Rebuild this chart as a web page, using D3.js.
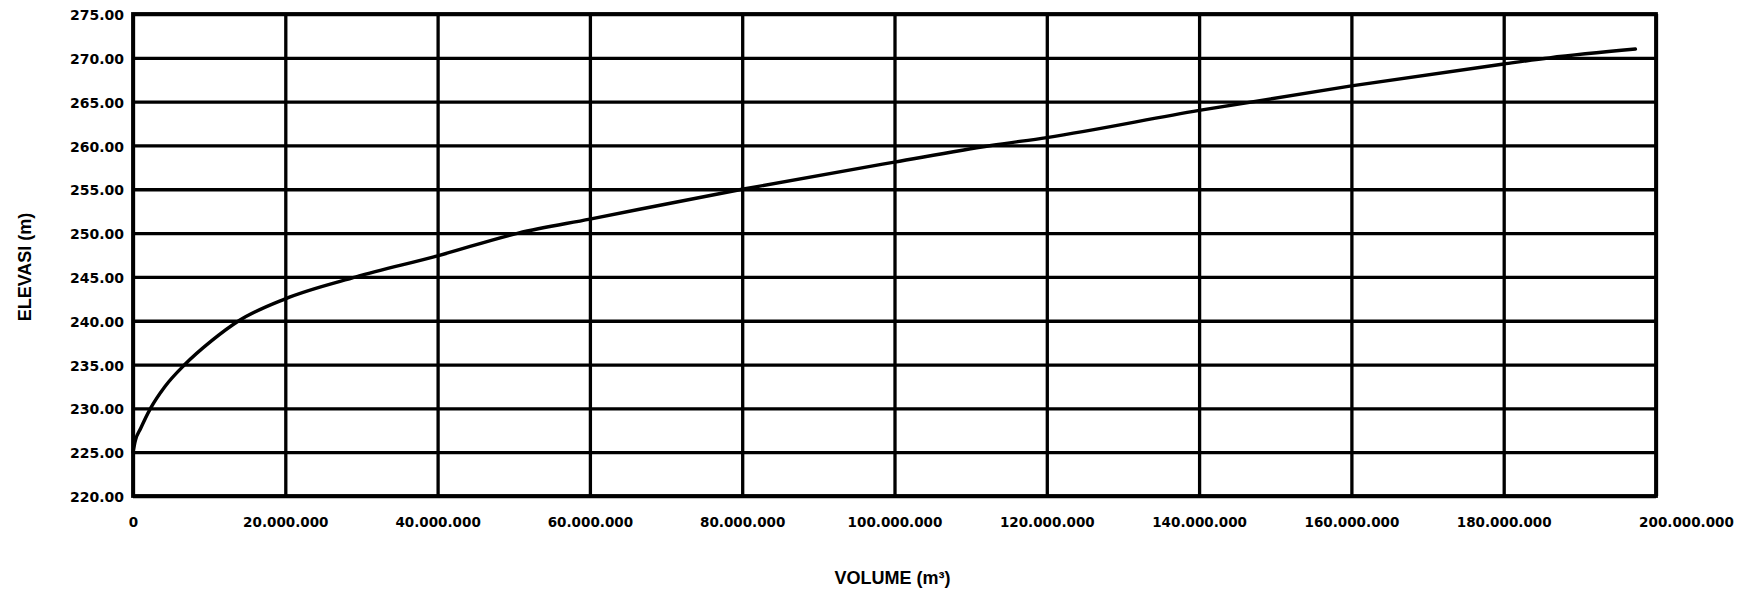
<!DOCTYPE html>
<html>
<head>
<meta charset="utf-8">
<script src="https://cdn.jsdelivr.net/npm/d3@7"></script>
<style>
  html, body { margin: 0; padding: 0; background: #fff; }
  svg { display: block; }
</style>
</head>
<body>
<svg id="chart" width="1737" height="590"></svg>
<script>
// ---- data ----
const volumeM3 = [0, 300000, 1000000, 2300000, 4200000, 6800000, 10300000, 13900000,
  20000000, 29300000, 40000000, 50600000, 60000000, 80000000, 100000000, 112700000,
  120000000, 140000000, 160000000, 180000000, 186000000, 197300000];
const elevationM = [225.0, 226.3, 227.7, 230.0, 232.5, 235.0, 237.7, 240.0,
  242.5, 245.0, 247.4, 250.0, 251.6, 255.0, 258.1, 260.0,
  260.9, 264.0, 266.8, 269.3, 270.0, 271.0];
const xTicks = [0, 20000000, 40000000, 60000000, 80000000, 100000000, 120000000,
  140000000, 160000000, 180000000, 200000000];
const yTicks = [220, 225, 230, 235, 240, 245, 250, 255, 260, 265, 270, 275];
const xTitle = "VOLUME (m³)";
const yTitle = "ELEVASI (m)";

// ---- layout ----
const svg = d3.select("#chart");
const pLeft = 133, pRight = 1656, pTop = 14, pBottom = 496;

const x = d3.scaleLinear().domain([0, 200000000]).range([pLeft, pRight]);
const y = d3.scaleLinear().domain([220, 275]).range([pBottom, pTop]);

const loc = d3.formatLocale({ decimal: ",", thousands: ".", grouping: [3], currency: ["", ""] });
const fx = loc.format(",d");
const fy = d3.format(".2f");

const tickFont = "'DejaVu Sans', Verdana, sans-serif";

// x axis with vertical gridlines
const gx = svg.append("g")
  .attr("transform", `translate(0,${pBottom})`)
  .call(d3.axisBottom(x).tickValues(xTicks).tickFormat(fx)
    .tickSize(-(pBottom - pTop)).tickPadding(21));
gx.select(".domain").remove();
gx.selectAll(".tick line").attr("stroke", "#000").attr("stroke-width", 3.3);
gx.selectAll(".tick text")
  .attr("fill", "#000")
  .attr("dx", (d, i, n) => i === n.length - 1 ? 30 : 0)
  .style("font-family", tickFont)
  .style("font-weight", "bold")
  .style("font-size", "13.5px");

// y axis with horizontal gridlines
const gy = svg.append("g")
  .attr("transform", `translate(${pLeft},0)`)
  .call(d3.axisLeft(y).tickValues(yTicks).tickFormat(fy)
    .tickSize(-(pRight - pLeft)).tickPadding(9));
gy.select(".domain").remove();
gy.selectAll(".tick line").attr("stroke", "#000").attr("stroke-width", 3.3);
gy.selectAll(".tick text")
  .attr("fill", "#000")
  .attr("dy", "0.4em")
  .style("font-family", tickFont)
  .style("font-weight", "bold")
  .style("font-size", "14px");

// frame
svg.append("rect")
  .attr("x", pLeft).attr("y", pTop)
  .attr("width", pRight - pLeft).attr("height", pBottom - pTop)
  .attr("fill", "none").attr("stroke", "#000").attr("stroke-width", 3.8);

// curve
const pts = volumeM3.map((v, i) => [v, elevationM[i]]);
svg.append("path")
  .datum(pts)
  .attr("fill", "none")
  .attr("stroke", "#000")
  .attr("stroke-width", 3.4)
  .attr("stroke-linecap", "round")
  .attr("d", d3.line().x(d => x(d[0])).y(d => y(d[1])).curve(d3.curveMonotoneX));

// titles
svg.append("text")
  .attr("x", (pLeft + pRight) / 2 - 2).attr("y", 584)
  .attr("text-anchor", "middle")
  .style("font-family", "'Liberation Sans', Arial, sans-serif")
  .style("font-weight", "bold")
  .style("font-size", "18px")
  .text(xTitle);

svg.append("text")
  .attr("transform", `translate(31,${(pTop + pBottom) / 2 + 12}) rotate(-90)`)
  .attr("text-anchor", "middle")
  .style("font-family", "'Liberation Sans', Arial, sans-serif")
  .style("font-weight", "bold")
  .style("font-size", "18px")
  .text(yTitle);
</script>
</body>
</html>
